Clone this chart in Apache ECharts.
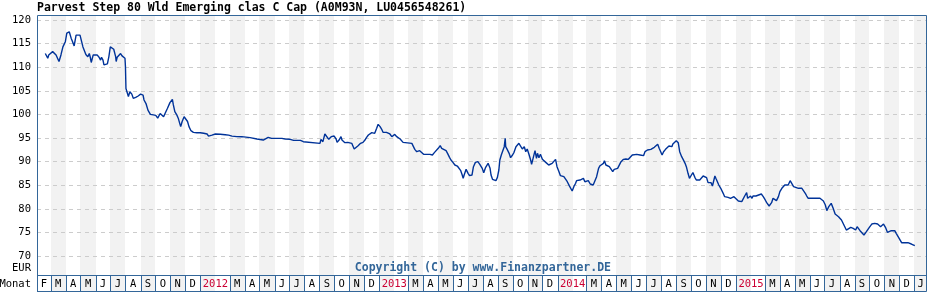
<!DOCTYPE html>
<html>
<head>
<meta charset="utf-8">
<script src="https://cdn.jsdelivr.net/npm/echarts@6/dist/echarts.min.js"></script>
<style>html,body{margin:0;padding:0;background:#fff}#c{width:928px;height:300px}</style>
</head>
<body>
<div id="c"></div>
<script>
const titleText = 'Parvest Step 80 Wld Emerging clas C Cap (A0M93N, LU0456548261)';
const copyrightText = 'Copyright (C) by www.Finanzpartner.DE';
const monthLetters = ['J','F','M','A','M','J','J','A','S','O','N','D'];
const yearCells = [2012, 2013, 2014, 2015];
const axisStart = [2011, 1, 1];
const axisEnd = [2016, 0, 27];
const yTicks = {min: 70, max: 120, step: 5};

const dates = [
'2011-02-18','2011-02-23','2011-02-25','2011-02-28','2011-03-05','2011-03-07','2011-03-09','2011-03-12','2011-03-18','2011-03-22','2011-03-26','2011-03-31',
'2011-04-03','2011-04-08','2011-04-12','2011-04-14','2011-04-17','2011-04-18','2011-04-22','2011-04-25','2011-04-30','2011-05-03','2011-05-06','2011-05-09',
'2011-05-12','2011-05-16','2011-05-19','2011-05-21','2011-05-23','2011-05-27','2011-05-31','2011-06-04','2011-06-08','2011-06-11','2011-06-13','2011-06-16',
'2011-06-18','2011-06-21','2011-06-25','2011-06-28','2011-07-01','2011-07-05','2011-07-08','2011-07-12','2011-07-13','2011-07-15','2011-07-19','2011-07-22',
'2011-07-25','2011-07-28','2011-07-31','2011-08-01','2011-08-02','2011-08-05','2011-08-07','2011-08-10','2011-08-14','2011-08-17','2011-08-19','2011-08-22',
'2011-08-27','2011-09-01','2011-09-06','2011-09-08','2011-09-12','2011-09-16','2011-09-21','2011-09-27','2011-10-02','2011-10-06','2011-10-11','2011-10-14',
'2011-10-18','2011-10-21','2011-10-26','2011-10-31','2011-11-05','2011-11-07','2011-11-10','2011-11-14','2011-11-17','2011-11-20','2011-11-22','2011-11-25',
'2011-11-29','2011-12-03','2011-12-06','2011-12-09','2011-12-13','2011-12-18','2011-12-25',
'2012-01-01','2012-01-08','2012-01-15','2012-01-18','2012-01-25','2012-02-01','2012-02-11','2012-02-21','2012-02-28','2012-03-06','2012-03-16','2012-03-26',
'2012-03-29','2012-04-12','2012-04-16','2012-04-26','2012-04-29','2012-05-09','2012-05-13','2012-05-19','2012-05-26','2012-06-16','2012-06-23','2012-06-26',
'2012-07-03','2012-07-10','2012-07-24','2012-07-30','2012-08-02','2012-09-02','2012-09-04','2012-09-08','2012-09-12','2012-09-15','2012-09-20','2012-09-25',
'2012-10-01','2012-10-05','2012-10-07','2012-10-11','2012-10-15','2012-10-17','2012-10-20','2012-10-23','2012-10-29','2012-11-02','2012-11-06','2012-11-09',
'2012-11-11','2012-11-14','2012-11-19','2012-11-24','2012-11-29','2012-12-03','2012-12-06','2012-12-10','2012-12-13','2012-12-17','2012-12-20','2012-12-23',
'2012-12-27','2012-12-30',
'2013-01-03','2013-01-06','2013-01-09','2013-01-13','2013-01-16','2013-01-20','2013-01-23','2013-01-27','2013-01-30','2013-02-02','2013-02-06','2013-02-09',
'2013-02-13','2013-02-16','2013-02-19','2013-02-23','2013-03-09','2013-03-12','2013-03-15','2013-03-19','2013-03-22','2013-03-25','2013-03-29','2013-04-02',
'2013-04-04','2013-04-07','2013-04-11','2013-04-15','2013-04-20','2013-04-24','2013-04-28','2013-05-02','2013-05-06','2013-05-09','2013-05-12','2013-05-18',
'2013-05-21','2013-05-25','2013-05-28','2013-06-01','2013-06-05','2013-06-10','2013-06-14','2013-06-17','2013-06-20','2013-06-22','2013-06-24','2013-06-28',
'2013-07-02','2013-07-05','2013-07-10','2013-07-13','2013-07-17','2013-07-20','2013-07-22','2013-07-26','2013-07-29','2013-07-31','2013-08-03','2013-08-07',
'2013-08-09','2013-08-12','2013-08-16','2013-08-18','2013-08-21','2013-08-24','2013-08-28','2013-08-31','2013-09-03','2013-09-05','2013-09-08','2013-09-12',
'2013-09-14','2013-09-16','2013-09-17','2013-09-20','2013-09-24','2013-09-27','2013-10-01','2013-10-04','2013-10-08','2013-10-10','2013-10-14','2013-10-18',
'2013-10-21','2013-10-25','2013-10-28','2013-10-31','2013-11-04','2013-11-07','2013-11-09','2013-11-12','2013-11-16','2013-11-19','2013-11-21','2013-11-24',
'2013-11-27','2013-12-01','2013-12-04','2013-12-08','2013-12-11','2013-12-14','2013-12-18','2013-12-21','2013-12-24','2013-12-28','2013-12-31',
'2014-01-04','2014-01-07','2014-01-11','2014-01-14','2014-01-18','2014-01-21','2014-01-25','2014-01-28','2014-01-31','2014-02-04','2014-02-07','2014-02-09',
'2014-02-13','2014-02-16','2014-02-20','2014-02-23','2014-02-26','2014-03-02','2014-03-05','2014-03-09','2014-03-12','2014-03-15','2014-03-19','2014-03-22',
'2014-03-26','2014-03-29','2014-04-02','2014-04-05','2014-04-07','2014-04-10','2014-04-14','2014-04-17','2014-04-21','2014-04-24','2014-04-27','2014-05-01',
'2014-05-04','2014-05-07','2014-05-11','2014-05-16','2014-05-21','2014-05-26','2014-05-30','2014-06-03','2014-06-07','2014-06-12','2014-06-15','2014-06-19',
'2014-06-26','2014-06-29','2014-07-04','2014-07-08','2014-07-11','2014-07-15','2014-07-18','2014-07-22','2014-07-25','2014-07-28','2014-07-31','2014-08-03',
'2014-08-06','2014-08-10','2014-08-13','2014-08-17','2014-08-20','2014-08-23','2014-08-25','2014-08-29','2014-09-01','2014-09-05','2014-09-08','2014-09-12',
'2014-09-15','2014-09-19','2014-09-22','2014-09-25','2014-09-28','2014-10-02','2014-10-05','2014-10-09','2014-10-12','2014-10-19','2014-10-23','2014-10-26',
'2014-10-29','2014-11-02','2014-11-05','2014-11-11','2014-11-14','2014-11-17','2014-11-19','2014-11-21','2014-11-23','2014-11-27','2014-12-01','2014-12-06',
'2014-12-09','2014-12-16','2014-12-21','2014-12-28',
'2015-01-01','2015-01-06','2015-01-13','2015-01-16','2015-01-19','2015-01-23','2015-01-25','2015-01-28','2015-01-31','2015-02-03','2015-02-05','2015-02-11',
'2015-02-15','2015-02-22','2015-02-26','2015-03-02','2015-03-05','2015-03-08','2015-03-10','2015-03-15','2015-03-18','2015-03-22','2015-03-25','2015-03-29',
'2015-04-01','2015-04-05','2015-04-08','2015-04-11','2015-04-15','2015-04-18','2015-04-22','2015-04-25','2015-04-29','2015-05-02','2015-05-09','2015-05-16',
'2015-05-19','2015-05-23','2015-05-26','2015-05-29','2015-06-05','2015-06-12','2015-06-22','2015-06-26','2015-06-29','2015-07-03','2015-07-06','2015-07-10',
'2015-07-15','2015-07-19','2015-07-23','2015-07-30','2015-08-05','2015-08-10','2015-08-15','2015-08-19','2015-08-24','2015-08-29','2015-09-03','2015-09-06',
'2015-09-12','2015-09-16','2015-09-20','2015-09-25','2015-10-01','2015-10-06','2015-10-12','2015-10-18','2015-10-24','2015-10-28','2015-10-30','2015-11-03',
'2015-11-07','2015-11-10','2015-11-15','2015-11-22','2015-11-25','2015-12-01','2015-12-06','2015-12-12','2015-12-19','2015-12-26','2016-01-02'
];

const prices = [
112.9,111.9,112.6,112.7,113.3,112.9,113.4,112.6,111.2,112.6,114.3,115.4,
117.2,117.5,116.1,115.6,115.4,114.5,116.8,117.0,116.8,116.8,114.3,114.0,
112.7,112.2,112.9,112.1,111.0,112.6,112.9,112.6,112.1,111.5,112.1,111.5,
110.5,110.1,110.7,112.2,114.3,114.2,113.8,112.2,111.2,112.1,111.9,112.9,
112.4,112.8,111.9,110.1,105.5,105.2,103.8,104.8,104.3,103.4,103.05,103.6,
103.9,104.3,104.1,103.05,102.3,100.9,100.0,99.9,99.8,99.2,100.2,99.9,
99.5,100.2,101.3,102.5,103.2,102.0,100.6,99.9,99.2,98.1,97.4,98.5,
99.5,99.2,98.5,97.4,96.55,96.2,96.1,
96.1,96.0,95.85,95.4,95.6,95.85,95.8,95.7,95.6,95.4,95.3,95.28,
95.07,95.07,94.79,94.79,94.57,94.57,94.79,95.14,94.93,94.93,94.79,94.93,
94.72,94.5,94.5,94.22,93.87,93.87,94.72,94.22,95.85,95.49,94.72,95.28,
95.42,94.79,94.08,94.57,95.28,94.57,94.93,94.01,94.08,94.43,93.87,93.52,
92.67,93.02,93.37,93.87,94.08,94.57,95.07,95.63,95.85,96.13,95.85,95.99,
97.05,97.89,
97.4,96.9,96.2,96.34,96.2,96.34,95.85,95.28,95.63,95.77,95.28,94.93,
94.79,94.43,94.08,93.87,93.87,93.52,92.6,92.1,92.46,92.31,91.89,91.54,
91.18,91.54,91.96,91.54,91.4,91.9,92.31,92.81,93.37,92.81,92.45,92.31,
91.75,90.9,90.34,89.84,89.28,89.06,88.78,88.07,87.16,86.45,87.16,88.36,
87.51,87.02,87.16,88.92,89.84,89.42,89.98,89.42,89.06,88.57,87.65,88.78,
88.36,89.63,88.57,87.16,86.24,86.66,85.96,86.66,88.22,90.34,91.4,91.75,
93.16,94.93,93.16,92.6,91.75,90.83,91.4,91.96,93.16,93.51,93.87,93.72,
92.67,93.16,92.1,92.67,91.4,90.34,89.42,90.69,92.31,90.69,91.75,90.83,
91.54,90.48,90.9,89.84,89.63,89.28,89.06,89.63,89.98,90.48,88.92,
87.86,87.02,86.66,86.8,87.16,85.74,84.9,84.69,83.77,84.83,85.39,85.96,
85.74,86.1,85.89,86.45,85.74,86.1,85.96,85.25,84.83,85.04,85.39,86.8,
88.57,89.13,88.92,89.63,90.2,89.28,89.49,88.92,88.57,87.86,88.36,88.22,
88.57,88.43,89.98,90.48,90.55,90.48,90.2,91.4,91.75,91.54,91.75,91.4,
91.26,92.1,92.46,92.25,92.6,92.46,93.02,93.31,93.66,92.81,92.46,91.4,
92.1,92.6,93.02,93.31,93.52,93.16,93.73,93.31,94.44,94.01,92.1,91.05,
90.48,89.63,88.79,87.52,86.46,87.16,87.66,86.67,86.1,86.1,86.46,86.95,
86.95,86.6,85.54,85.54,84.83,86.1,86.95,86.46,86.81,85.04,84.34,83.28,
82.57,82.43,82.22,82.57,
82.22,81.65,81.51,81.65,82.71,83.42,82.22,82.43,82.71,82.22,82.71,82.71,
82.92,83.14,82.57,81.87,81.3,81.02,80.59,81.3,82.22,82.22,81.72,82.57,
83.63,84.34,84.69,85.04,85.26,85.04,85.96,85.54,84.69,84.34,84.34,84.34,
83.98,83.28,82.71,82.22,82.22,82.22,82.22,82.01,81.65,80.81,79.6,80.45,
81.15,80.1,78.89,78.33,77.62,76.56,75.5,75.86,76.07,75.86,75.5,76.21,
75.36,75.15,74.45,75.15,76.07,76.77,76.92,76.77,76.21,76.35,76.77,76.07,
75.01,75.36,75.36,75.36,74.8,73.74,72.82,72.82,72.82,72.54,72.19
];

const FONT = '"DejaVu Sans Mono", monospace';
const BORDER = '#336699';
const STRIPE = '#f2f2f2';
const YEAR_RED = '#cc0033';

const tMin = new Date(axisStart[0], axisStart[1], axisStart[2]).getTime();
const tMax = new Date(axisEnd[0], axisEnd[1], axisEnd[2]).getTime();

// month cells along the time axis
const monthCells = [];
{
  let y = axisStart[0], m = axisStart[1];
  while (new Date(y, m, 1).getTime() < tMax) {
    const s = new Date(y, m, 1).getTime();
    const e = new Date(y, m + 1, 1).getTime();
    monthCells.push([s, e, m, y]);
    m++; if (m > 11) { m = 0; y++; }
  }
}

function renderMonth(params, api) {
  const cs = params.coordSys;
  const left = cs.x, right = cs.x + cs.width;
  const top = cs.y, bottom = cs.y + cs.height;
  const boxTop = bottom - 17;
  let x0 = api.coord([api.value(0), 0])[0];
  let x1 = api.coord([api.value(1), 0])[0];
  x0 = Math.max(x0, left); x1 = Math.min(x1, right);
  const m = api.value(2), yr = api.value(3);
  const kids = [];
  const rx0 = Math.round(x0), rx1 = Math.round(x1);
  if (m % 2 === 0) {
    kids.push({type: 'rect', shape: {x: rx0, y: top, width: rx1 - rx0, height: bottom - top},
      style: {fill: STRIPE}});
  }
  const isYearJan = (m === 0 && yearCells.indexOf(yr) >= 0);
  const isYearFeb = (m === 1 && yearCells.indexOf(yr) >= 0);
  if (!isYearFeb) {
    kids.push({type: 'line', shape: {x1: rx0 + 0.5, y1: boxTop, x2: rx0 + 0.5, y2: bottom},
      style: {stroke: BORDER, lineWidth: 1}});
  }
  const cy = (boxTop + bottom) / 2 + 0.5;
  if (isYearJan) {
    kids.push({type: 'text', style: {text: String(yr), x: x1, y: cy, align: 'center', verticalAlign: 'middle',
      textAlign: 'center', textVerticalAlign: 'middle', font: '10.5px ' + FONT, fill: YEAR_RED}});
  } else if (!isYearFeb) {
    kids.push({type: 'text', style: {text: monthLetters[m], x: (x0 + x1) / 2, y: cy, align: 'center', verticalAlign: 'middle',
      textAlign: 'center', textVerticalAlign: 'middle', font: '10.5px ' + FONT, fill: '#000'}});
  }
  return {type: 'group', children: kids};
}

const chart = echarts.init(document.getElementById('c'), null, {renderer: 'canvas'});
chart.setOption({
  animation: false,
  backgroundColor: '#fff',
  title: {
    text: titleText, left: 37, top: 2, padding: 0,
    textStyle: {fontFamily: FONT, fontWeight: 'bold', fontSize: 11.5, color: '#000', lineHeight: 13}
  },
  grid: [
    {left: 37, right: 1, top: 20, bottom: 44},
    {left: 37, right: 1, top: 15, bottom: 8}
  ],
  xAxis: [
    {type: 'time', gridIndex: 0, min: tMin, max: tMax, show: false},
    {type: 'time', gridIndex: 1, min: tMin, max: tMax, show: false}
  ],
  yAxis: [
    {type: 'value', gridIndex: 0, min: yTicks.min, max: yTicks.max, interval: yTicks.step, z: 3,
      axisLine: {show: false}, axisTick: {show: false},
      axisLabel: {margin: 6, fontFamily: FONT, fontSize: 10.5, color: '#000'},
      splitLine: {show: true, lineStyle: {color: '#cccccc', width: 1, type: [4, 4]}}},
    {type: 'value', gridIndex: 1, min: 0, max: 1, show: false}
  ],
  series: [
    {type: 'custom', xAxisIndex: 1, yAxisIndex: 1, z: 1, silent: true,
      renderItem: renderMonth, data: monthCells, encode: {x: [0, 1], y: 2}},
    {type: 'line', xAxisIndex: 0, yAxisIndex: 0, z: 5, showSymbol: false, symbol: 'none',
      lineStyle: {color: '#003399', width: 1.4},
      data: dates.map((d, i) => [d, prices[i]])}
  ],
  graphic: [
    {type: 'rect', z: 100, shape: {x: 37.5, y: 15.5, width: 889, height: 276},
      style: {fill: null, stroke: BORDER, lineWidth: 1}},
    {type: 'line', z: 100, shape: {x1: 37.5, y1: 275.5, x2: 926.5, y2: 275.5},
      style: {stroke: BORDER, lineWidth: 1}},
    {type: 'text', z: 100, x: 611, y: 268,
      style: {text: copyrightText, align: 'right', verticalAlign: 'middle', textAlign: 'right', textVerticalAlign: 'middle',
        font: 'bold 11.5px ' + FONT, fill: BORDER}},
    {type: 'text', z: 100, x: 31, y: 268,
      style: {text: 'EUR', align: 'right', verticalAlign: 'middle', textAlign: 'right', textVerticalAlign: 'middle',
        font: '10.5px ' + FONT, fill: '#000'}},
    {type: 'text', z: 100, x: 31, y: 284,
      style: {text: 'Monat', align: 'right', verticalAlign: 'middle', textAlign: 'right', textVerticalAlign: 'middle',
        font: '10.5px ' + FONT, fill: '#000'}}
  ]
});
</script>
</body>
</html>
